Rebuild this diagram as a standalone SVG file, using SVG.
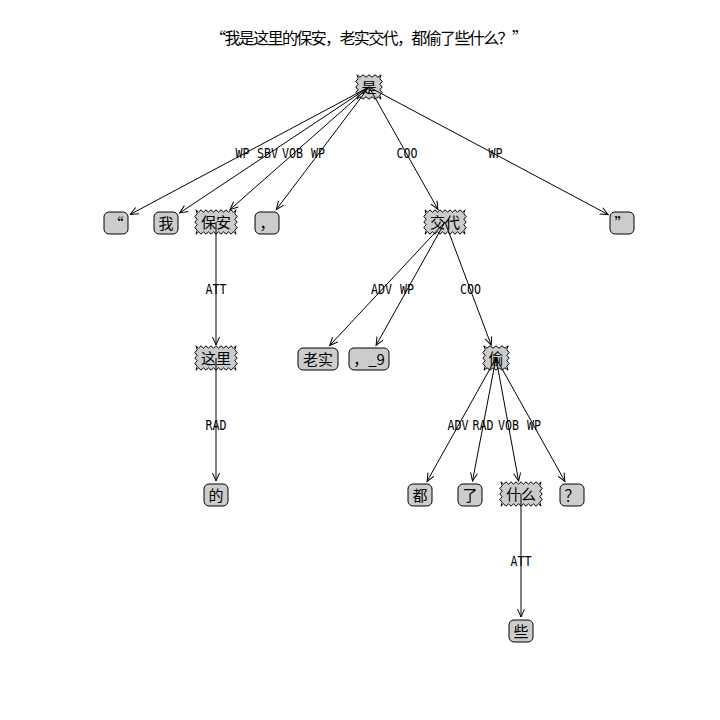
<svg xmlns="http://www.w3.org/2000/svg" xmlns:xlink="http://www.w3.org/1999/xlink" width="720" height="720" viewBox="0 0 720 720">
  <style>
    .title { font-family: "Noto Sans CJK SC", "DejaVu Sans", sans-serif; font-size: 16px; fill: #000; text-anchor: middle; }
    .ntext { font-family: "Noto Sans CJK SC", "DejaVu Sans", sans-serif; font-size: 15px; fill: #000; text-anchor: middle; dominant-baseline: central; }
    .box { fill: #cccccc; stroke: #000; stroke-width: 1; }
    .edge { fill: none; stroke: #000; stroke-width: 1; marker-end: url(#arrow); }
    .elabel { font-family: "DejaVu Sans Mono", "Liberation Mono", monospace; font-size: 14px; fill: #000; text-anchor: middle; dominant-baseline: central; }
  </style>
  <defs>
    <marker id="arrow" markerUnits="userSpaceOnUse" markerWidth="12" markerHeight="12" viewBox="-10 -5 12 10" refX="0" refY="0" orient="auto">
      <path d="M-8,-3.5 L0,0 L-8,3.5" fill="none" stroke="#000" stroke-width="1"/>
    </marker>
    <rect id="r1" class="box" x="-12" y="-11" width="24" height="22" rx="5"/>
    <rect id="r2" class="box" x="-20" y="-11" width="40" height="22" rx="5"/>
    <polygon id="s1" class="box" points="-12,-12.2 -9,-9.8 -6,-12.2 -3,-9.8 0,-12.2 3,-9.8 6,-12.2 9,-9.8 12,-12.2 10.8,-8.25 13.2,-5.5 10.8,-2.75 13.2,0 10.8,2.75 13.2,5.5 10.8,8.25 12,12.2 9,9.8 6,12.2 3,9.8 0,12.2 -3,9.8 -6,12.2 -9,9.8 -12,12.2 -10.8,8.25 -13.2,5.5 -10.8,2.75 -13.2,0 -10.8,-2.75 -13.2,-5.5 -10.8,-8.25"/>
    <polygon id="s2" class="box" points="-20,-12.2 -17.5,-9.8 -15,-12.2 -12.5,-9.8 -10,-12.2 -7.5,-9.8 -5,-12.2 -2.5,-9.8 0,-12.2 2.5,-9.8 5,-12.2 7.5,-9.8 10,-12.2 12.5,-9.8 15,-12.2 17.5,-9.8 20,-12.2 18.8,-8.25 21.2,-5.5 18.8,-2.75 21.2,0 18.8,2.75 21.2,5.5 18.8,8.25 20,12.2 17.5,9.8 15,12.2 12.5,9.8 10,12.2 7.5,9.8 5,12.2 2.5,9.8 0,12.2 -2.5,9.8 -5,12.2 -7.5,9.8 -10,12.2 -12.5,9.8 -15,12.2 -17.5,9.8 -20,12.2 -18.8,8.25 -21.2,5.5 -18.8,2.75 -21.2,0 -18.8,-2.75 -21.2,-5.5 -18.8,-8.25"/>
  </defs>

  <rect width="720" height="720" fill="#ffffff"/>
  <text class="title" x="369" y="44" textLength="318" lengthAdjust="spacing">“我是这里的保安，老实交代，都偷了些什么？”</text>

  <!-- nodes -->
  <g id="n-shi"><use xlink:href="#s1" x="369" y="87"/><text class="ntext" x="369" y="86">是</text></g>
  <g id="n-lq"><use xlink:href="#r1" x="116" y="223"/><text class="ntext" x="116" y="222">“</text></g>
  <g id="n-wo"><use xlink:href="#r1" x="166" y="223"/><text class="ntext" x="166" y="222">我</text></g>
  <g id="n-baoan"><use xlink:href="#s2" x="216" y="222"/><text class="ntext" x="216" y="221">保安</text></g>
  <g id="n-comma1"><use xlink:href="#r1" x="267" y="223"/><text class="ntext" x="267" y="222">，</text></g>
  <g id="n-jiaodai"><use xlink:href="#s2" x="445" y="222"/><text class="ntext" x="445" y="221">交代</text></g>
  <g id="n-rq"><use xlink:href="#r1" x="622" y="223"/><text class="ntext" x="622" y="222">”</text></g>
  <g id="n-zheli"><use xlink:href="#s2" x="216" y="358"/><text class="ntext" x="216" y="357">这里</text></g>
  <g id="n-laoshi"><use xlink:href="#r2" x="318" y="359"/><text class="ntext" x="318" y="358">老实</text></g>
  <g id="n-comma9"><use xlink:href="#r2" x="369" y="359"/><text class="ntext" x="369" y="358">，_9</text></g>
  <g id="n-tou"><use xlink:href="#s1" x="496" y="358"/><text class="ntext" x="496" y="357">偷</text></g>
  <g id="n-de"><use xlink:href="#r1" x="216" y="495"/><text class="ntext" x="216" y="494">的</text></g>
  <g id="n-dou"><use xlink:href="#r1" x="420" y="495"/><text class="ntext" x="420" y="494">都</text></g>
  <g id="n-le"><use xlink:href="#r1" x="470" y="495"/><text class="ntext" x="470" y="494">了</text></g>
  <g id="n-shenme"><use xlink:href="#s2" x="521" y="494"/><text class="ntext" x="521" y="493">什么</text></g>
  <g id="n-qm"><use xlink:href="#r1" x="572" y="495"/><text class="ntext" x="572" y="494">？</text></g>
  <g id="n-xie"><use xlink:href="#r1" x="521" y="631"/><text class="ntext" x="521" y="630">些</text></g>

  <!-- connectors with dependency labels -->
  <g id="connectors">
    <line class="edge" x1="369" y1="87" x2="130.3" y2="214.4"/>
    <line class="edge" x1="369" y1="87" x2="179.7" y2="212.9"/>
    <line class="edge" x1="369" y1="87" x2="229.9" y2="209.7"/>
    <line class="edge" x1="369" y1="87" x2="276.4" y2="209.4"/>
    <line class="edge" x1="369" y1="87" x2="437.9" y2="209.3"/>
    <line class="edge" x1="369" y1="87" x2="608.2" y2="214.6"/>
    <line class="edge" x1="216" y1="222" x2="216" y2="345"/>
    <line class="edge" x1="445" y1="222" x2="329.7" y2="345.5"/>
    <line class="edge" x1="445" y1="222" x2="376.1" y2="345.3"/>
    <line class="edge" x1="445" y1="222" x2="491.2" y2="345.1"/>
    <line class="edge" x1="216" y1="358" x2="216" y2="481"/>
    <line class="edge" x1="496" y1="358" x2="427.1" y2="481.3"/>
    <line class="edge" x1="496" y1="358" x2="472.5" y2="481"/>
    <line class="edge" x1="496" y1="358" x2="518.6" y2="481"/>
    <line class="edge" x1="496" y1="358" x2="564.9" y2="481.3"/>
    <line class="edge" x1="521" y1="494" x2="521" y2="617"/>

    <text class="elabel" x="242.5" y="153" textLength="14" lengthAdjust="spacingAndGlyphs">WP</text>
    <text class="elabel" x="267.5" y="153" textLength="21" lengthAdjust="spacingAndGlyphs">SBV</text>
    <text class="elabel" x="292.5" y="153" textLength="21" lengthAdjust="spacingAndGlyphs">VOB</text>
    <text class="elabel" x="318" y="153" textLength="14" lengthAdjust="spacingAndGlyphs">WP</text>
    <text class="elabel" x="407" y="153" textLength="21" lengthAdjust="spacingAndGlyphs">COO</text>
    <text class="elabel" x="495.5" y="153" textLength="14" lengthAdjust="spacingAndGlyphs">WP</text>
    <text class="elabel" x="216" y="289" textLength="21" lengthAdjust="spacingAndGlyphs">ATT</text>
    <text class="elabel" x="381.5" y="289" textLength="21" lengthAdjust="spacingAndGlyphs">ADV</text>
    <text class="elabel" x="407" y="289" textLength="14" lengthAdjust="spacingAndGlyphs">WP</text>
    <text class="elabel" x="470.5" y="289" textLength="21" lengthAdjust="spacingAndGlyphs">COO</text>
    <text class="elabel" x="216" y="425" textLength="21" lengthAdjust="spacingAndGlyphs">RAD</text>
    <text class="elabel" x="458" y="425" textLength="21" lengthAdjust="spacingAndGlyphs">ADV</text>
    <text class="elabel" x="483" y="425" textLength="21" lengthAdjust="spacingAndGlyphs">RAD</text>
    <text class="elabel" x="508.5" y="425" textLength="21" lengthAdjust="spacingAndGlyphs">VOB</text>
    <text class="elabel" x="534" y="425" textLength="14" lengthAdjust="spacingAndGlyphs">WP</text>
    <text class="elabel" x="521" y="561" textLength="21" lengthAdjust="spacingAndGlyphs">ATT</text>
  </g>
</svg>
